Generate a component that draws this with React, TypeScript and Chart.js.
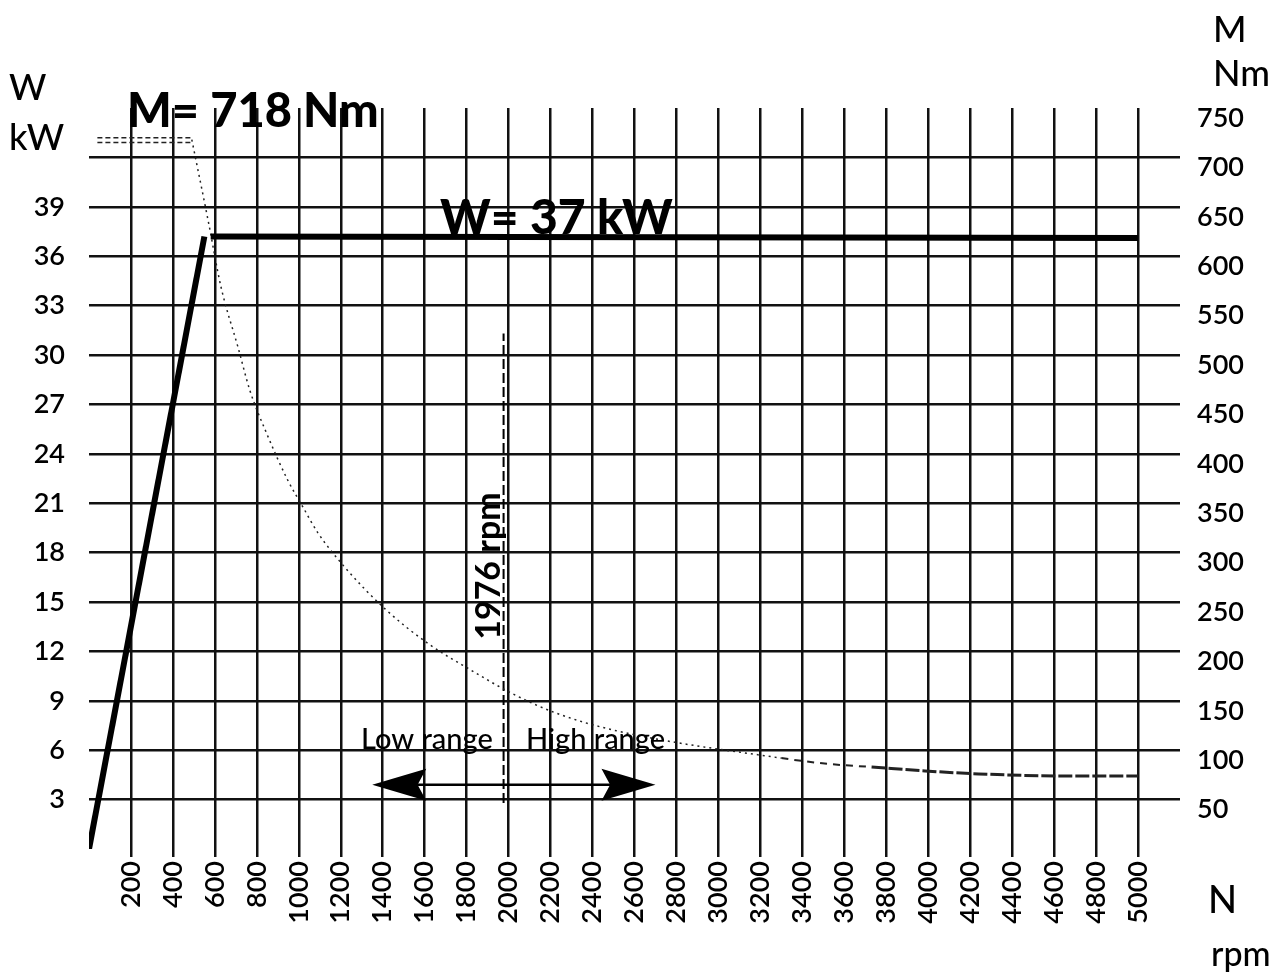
import React, { useEffect, useRef } from 'react';
import { Chart, registerables } from 'chart.js';

Chart.register(...registerables);

// ---- data ----
const powerRiseRpm = [0, 550];
const powerRiseKw = [0, 37.2];
const powerFlatRpm = [580, 5000];
const powerFlatKw = [37.2, 37.1];

const torqueTopRpm = [40, 490];
const torqueTopNmA = [720, 720];
const torqueTopNmB = [715, 715];

const torqueRpm = [490, 567, 629, 710, 767, 844, 948, 1020, 1091, 1220, 1411, 1616, 1821, 2011, 2221, 2507, 3300, 3530, 3730, 3985, 4240, 4630, 5000];
const torqueNm = [718, 637, 569, 508, 464, 422, 373, 346, 320, 285, 243, 208, 181, 158, 138, 120, 92, 86, 83, 79, 76, 74, 74];

const shiftRpm = [1976, 1976];
const shiftKw = [2.8, 31.3];

const lowArrowRpm = [1976, 1350];
const highArrowRpm = [1976, 2700];
const arrowKw = 3.9;

const FONT = 'Lato, "Open Sans", sans-serif';

const toXY = (xs: number[], ys: number[]) => xs.map((x, i) => ({ x, y: ys[i] }));

const overlay = {
  id: 'overlay',
  beforeDraw(chart: any) {
    const { ctx } = chart;
    ctx.save();
    ctx.fillStyle = '#fff';
    ctx.fillRect(0, 0, chart.width, chart.height);
    ctx.restore();
  },
  afterDatasetsDraw(chart: any) {
    const { ctx, scales } = chart;
    const x = scales.x;
    const yL = scales.yL;
    ctx.save();
    ctx.fillStyle = '#000';
    ctx.strokeStyle = '#000';
    ctx.textBaseline = 'alphabetic';
    ctx.textAlign = 'left';

    // axis titles
    ctx.font = `500 36px ${FONT}`;
    ctx.fillText('W', 9, 100);
    ctx.fillText('kW', 9, 150);
    ctx.fillText('M', 1213, 42);
    ctx.fillText('Nm', 1213, 86);
    ctx.font = `500 38px ${FONT}`;
    ctx.fillText('N', 1208, 913);
    ctx.font = `500 34px ${FONT}`;
    ctx.fillText('rpm', 1211, 966);

    // big labels
    ctx.font = `900 47px ${FONT}`;
    ctx.fillText('M= 718 Nm', 127, 127);
    ctx.font = `900 48px ${FONT}`;
    ctx.fillText('W= 37 kW', 440, 234);

    // 1976 rpm vertical label
    ctx.save();
    ctx.font = `bold 34px ${FONT}`;
    ctx.translate(x.getPixelForValue(1976) - 15, 566);
    ctx.rotate(-Math.PI / 2);
    ctx.textAlign = 'center';
    ctx.textBaseline = 'middle';
    ctx.fillText('1976 rpm', 0, 0);
    ctx.restore();

    // range labels
    ctx.font = `500 29px ${FONT}`;
    ctx.fillText('Low range', 361, 749);
    ctx.fillText('High range', 526, 749);

    // arrows
    const ay = yL.getPixelForValue(arrowKw);
    const drawArrow = (fromRpm: number, tipRpm: number) => {
      const x0 = x.getPixelForValue(fromRpm);
      const xt = x.getPixelForValue(tipRpm);
      const dir = xt > x0 ? 1 : -1;
      const headLen = 54;
      ctx.lineWidth = 2.5;
      ctx.beginPath();
      ctx.moveTo(x0, ay);
      ctx.lineTo(xt - dir * headLen * 0.8, ay);
      ctx.stroke();
      ctx.beginPath();
      ctx.moveTo(xt, ay);
      ctx.lineTo(xt - dir * headLen, ay - 16);
      ctx.lineTo(xt - dir * headLen * 0.84, ay);
      ctx.lineTo(xt - dir * headLen, ay + 16);
      ctx.closePath();
      ctx.fill();
    };
    drawArrow(lowArrowRpm[0], lowArrowRpm[1]);
    drawArrow(highArrowRpm[0], highArrowRpm[1]);
    ctx.restore();
  },
};

export default function App() {
  const ref = useRef<HTMLCanvasElement>(null);
  useEffect(() => {
    document.body.style.margin = '0';
    const canvas = ref.current;
    if (!canvas) return;
    const gridColor = (hide: number[]) => (c: any) =>
      c.tick && hide.includes(c.tick.value) ? 'rgba(0,0,0,0)' : '#111';
    const tickFont = { family: FONT, size: 27, weight: 600 as any };
    const chart = new Chart(canvas, {
      type: 'line',
      data: {
        datasets: [
          {
            label: 'W rise',
            data: toXY(powerRiseRpm, powerRiseKw),
            yAxisID: 'yL',
            borderColor: '#000',
            borderWidth: 6,
            pointRadius: 0,
          },
          {
            label: 'W flat',
            data: toXY(powerFlatRpm, powerFlatKw),
            yAxisID: 'yL',
            borderColor: '#000',
            borderWidth: 6,
            pointRadius: 0,
          },
          {
            label: 'M top A',
            data: toXY(torqueTopRpm, torqueTopNmA),
            yAxisID: 'yR',
            borderColor: '#222',
            borderWidth: 1.5,
            borderDash: [5, 3],
            pointRadius: 0,
          },
          {
            label: 'M top B',
            data: toXY(torqueTopRpm, torqueTopNmB),
            yAxisID: 'yR',
            borderColor: '#222',
            borderWidth: 1.5,
            borderDash: [5, 3],
            pointRadius: 0,
          },
          {
            label: 'M',
            data: toXY(torqueRpm, torqueNm),
            yAxisID: 'yR',
            borderColor: '#222',
            borderWidth: 1.5,
            borderDash: [2, 4],
            pointRadius: 0,
            cubicInterpolationMode: 'monotone',
            segment: {
              borderWidth: (s: any) => (s.p0.parsed.x >= 3700 ? 3 : s.p0.parsed.x >= 3000 ? 2 : 1.5),
              borderDash: (s: any) => (s.p0.parsed.x >= 3700 ? [14, 3] : s.p0.parsed.x >= 3000 ? [7, 6] : [2, 4]),
            },
          } as any,
          {
            label: '1976 rpm',
            data: toXY(shiftRpm, shiftKw),
            yAxisID: 'yL',
            borderColor: '#000',
            borderWidth: 2,
            borderDash: [10, 4],
            pointRadius: 0,
          },
        ],
      },
      options: {
        responsive: false,
        animation: false,
        layout: { padding: { top: 108, left: 0, right: 0, bottom: 0 } },
        plugins: { legend: { display: false }, tooltip: { enabled: false } },
        scales: {
          x: {
            type: 'linear',
            min: 0,
            max: 5200,
            afterFit: (s: any) => {
              s.height = 129;
            },
            border: { display: false },
            grid: { color: gridColor([0, 5200]), lineWidth: 2.5, drawTicks: true, tickLength: 8 },
            ticks: {
              stepSize: 200,
              autoSkip: false,
              maxRotation: 90,
              minRotation: 90,
              padding: 4,
              color: '#000',
              font: tickFont,
              callback: (v: any) => (v > 0 && v <= 5000 ? String(v) : ''),
            },
          },
          yL: {
            type: 'linear',
            position: 'left',
            min: 0,
            max: 45,
            afterFit: (s: any) => {
              s.width = 89;
            },
            border: { display: false },
            grid: { color: gridColor([0, 45]), lineWidth: 2.5, drawTicks: false },
            ticks: {
              stepSize: 3,
              padding: 24,
              color: '#000',
              font: tickFont,
              callback: (v: any) => (v >= 3 && v <= 39 ? String(v) : ''),
            },
          },
          yR: {
            type: 'linear',
            position: 'right',
            min: 0,
            max: 750,
            afterFit: (s: any) => {
              s.width = 107;
            },
            border: { display: false },
            grid: { drawOnChartArea: false, drawTicks: false },
            ticks: {
              stepSize: 50,
              padding: 17,
              labelOffset: 10,
              color: '#000',
              font: tickFont,
              callback: (v: any) => (v >= 50 ? String(v) : ''),
            },
          },
        },
      },
      plugins: [overlay],
    } as any);
    return () => chart.destroy();
  }, []);
  return (
    <div style={{ width: 1287, height: 978 }}>
      <canvas ref={ref} width={1287} height={978} style={{ display: 'block', width: 1287, height: 978 }} />
    </div>
  );
}
